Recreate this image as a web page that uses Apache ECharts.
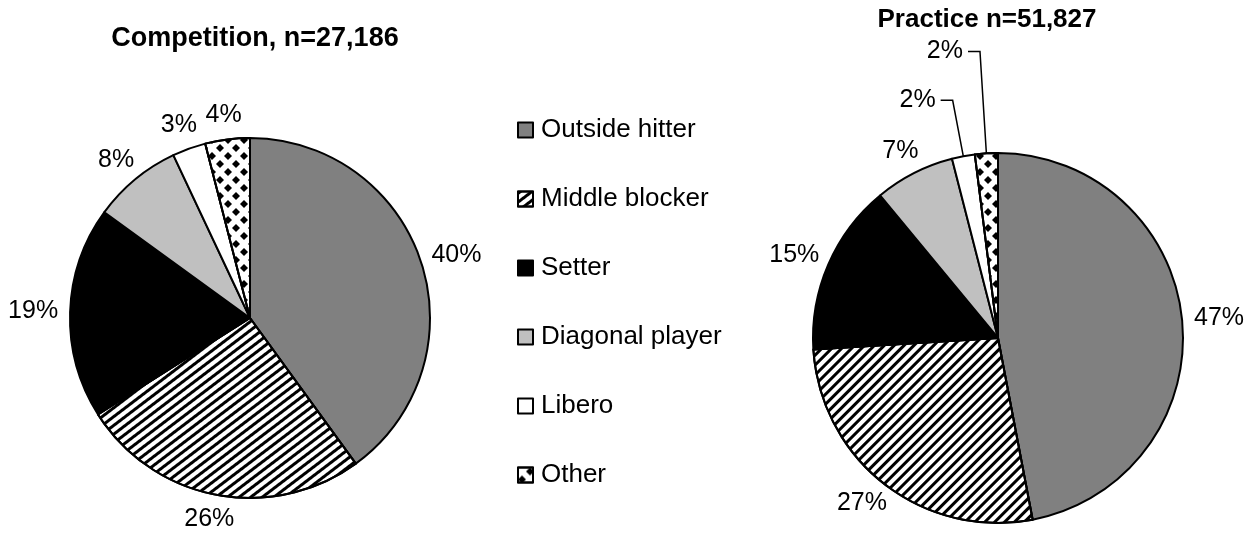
<!DOCTYPE html>
<html>
<head>
<meta charset="utf-8">
<script src="https://cdn.jsdelivr.net/npm/echarts@6/dist/echarts.min.js"></script>
<style>
  html, body { margin: 0; padding: 0; background: #fff; }
  #chart { width: 1253px; height: 535px; }
</style>
</head>
<body>
<div id="chart"></div>
<script>
// data
var categories = ['Outside hitter', 'Middle blocker', 'Setter', 'Diagonal player', 'Libero', 'Other'];
var competitionValues = [40, 26, 19, 8, 3, 4];
var practiceValues = [47, 27, 15, 7, 2, 2];
var pieTitles = ['Competition, n=27,186', 'Practice n=51,827'];

var FONT = 'Liberation Sans, Arial, sans-serif';
var LABEL_GAP = 12;

// layout of the two pies
var pies = [
	{ values: competitionValues, center: [250, 318], radius: 180, stripeAngle: -0.65 },
	{ values: practiceValues, center: [998, 338], radius: 185, stripeAngle: -Math.PI / 4,
	  leaders: [null, null, null, null, [57, 12], [102, 12]] }
];

function stripes(angle) {
	return {
		symbol: 'rect', symbolSize: 1, color: '#000',
		dashArrayX: [1, 0], dashArrayY: [3, 4], rotation: angle
	};
}
var diamonds = {
	symbol: 'diamond', symbolSize: 1, color: '#000',
	dashArrayX: [[8, 8], [0, 8, 8, 0]], dashArrayY: [8, 0]
};

function sliceStyle(i, pie) {
	var base = { borderColor: '#000', borderWidth: 2 };
	var fills = [
		{ color: '#808080' },
		{ color: '#fff', decal: stripes(pie.stripeAngle) },
		{ color: '#000' },
		{ color: '#c0c0c0' },
		{ color: '#fff' },
		{ color: '#fff', decal: diamonds }
	];
	return Object.assign(base, fills[i]);
}

function buildData(pie) {
	return pie.values.map(function (v, i) {
		var item = { name: categories[i], value: v, itemStyle: sliceStyle(i, pie) };
		if (pie.leaders && pie.leaders[i]) {
			item.labelLine = { show: true, length: pie.leaders[i][0], length2: pie.leaders[i][1] };
		}
		return item;
	});
}

// put a label just outside the rim, the way the spreadsheet does it
function rimLabel(params) {
	var pie = pies[params.seriesIndex];
	var i = params.dataIndex;
	if (pie.leaders && pie.leaders[i]) return {};
	var total = 0, before = 0;
	pie.values.forEach(function (v, k) {
		total += v;
		if (k < i) before += v;
	});
	var a = 2 * Math.PI * (before + pie.values[i] / 2) / total;
	var s = Math.sin(a), c = Math.cos(a);
	var R = pie.radius + LABEL_GAP;
	var w = params.labelRect.width, h = params.labelRect.height;
	return {
		x: pie.center[0] + R * s + w / 2 * s,
		y: pie.center[1] - R * c - h / 2 * c,
		align: 'center',
		verticalAlign: 'middle'
	};
}

function pieSeries(pie) {
	return {
		type: 'pie',
		center: pie.center,
		radius: pie.radius,
		startAngle: 90,
		clockwise: true,
		avoidLabelOverlap: false,
		animation: false,
		label: {
			show: true,
			position: 'outside',
			formatter: '{c}%',
			fontFamily: FONT,
			fontSize: 25,
			color: '#000'
		},
		labelLine: {
			show: false,
			length: 10,
			length2: 4,
			lineStyle: { color: '#000', width: 1.5 }
		},
		labelLayout: rimLabel,
		emphasis: { disabled: true },
		data: buildData(pie)
	};
}

var chart = echarts.init(document.getElementById('chart'));
chart.setOption({
	backgroundColor: '#fff',
	title: [
		{
			text: pieTitles[0], left: 250, top: 20, textAlign: 'center',
			textStyle: { fontFamily: FONT, fontSize: 27, fontWeight: 'bold', color: '#000' }
		},
		{
			text: pieTitles[1], left: 982, top: 2, textAlign: 'center',
			textStyle: { fontFamily: FONT, fontSize: 26, fontWeight: 'bold', color: '#000' }
		}
	],
	legend: {
		orient: 'vertical',
		left: 512,
		top: 112,
		itemWidth: 15,
		itemHeight: 15,
		itemGap: 43,
		icon: 'rect',
		selectedMode: false,
		textStyle: { fontFamily: FONT, fontSize: 26, color: '#000', padding: [0, 0, 0, 3] },
		data: categories
	},
	series: pies.map(pieSeries)
});
</script>
</body>
</html>
